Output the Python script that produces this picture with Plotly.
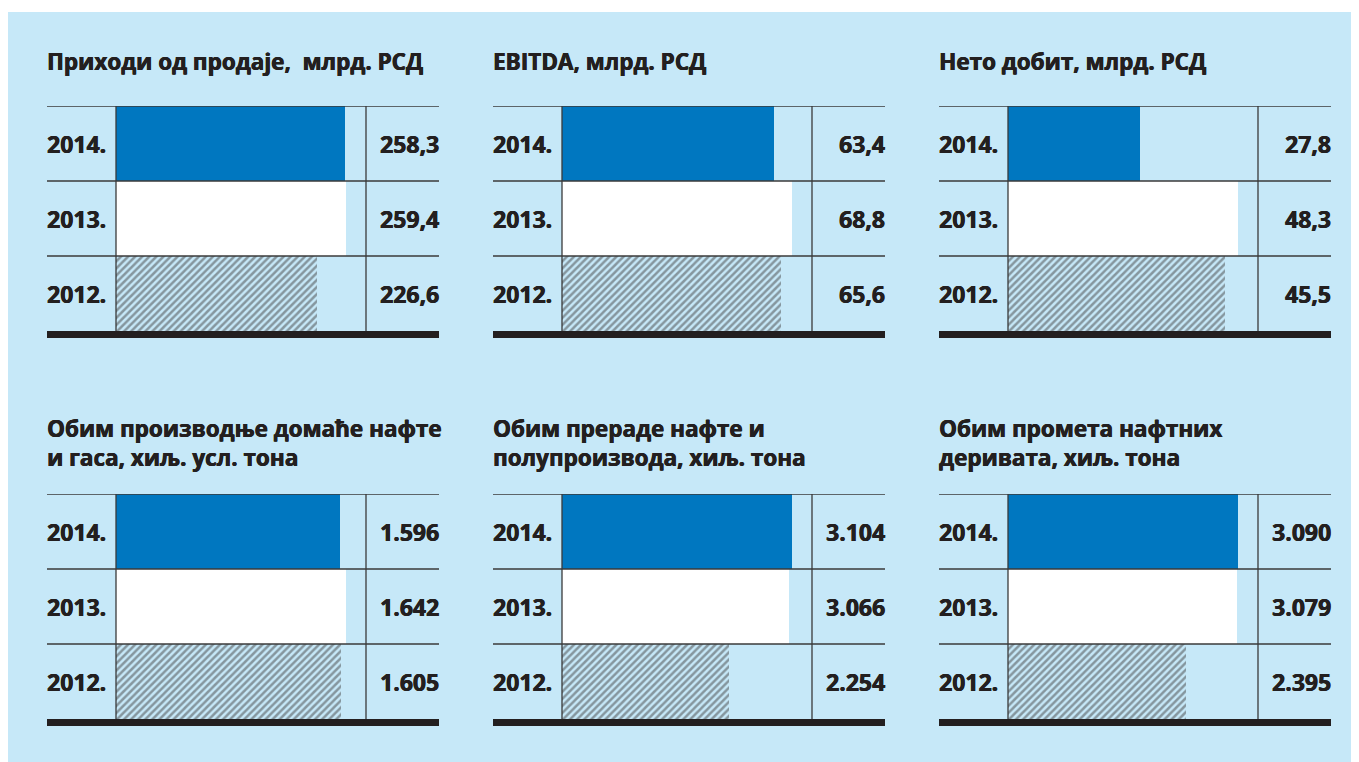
import plotly.graph_objects as go

# page is offset by the 8px body margin, so the figure is the window minus it
W, H = 1351, 754
OFF = 8

years = ["2014.", "2013.", "2012."]
titles = [
    "Приходи од продаје,  млрд. РСД",
    "EBITDA, млрд. РСД",
    "Нето добит, млрд. РСД",
    "Обим производње домаће нафте<br>и гаса, хиљ. усл. тона",
    "Обим прераде нафте и<br>полупроизвода, хиљ. тона",
    "Обим промета нафтних<br>деривата, хиљ. тона",
]
revenue = [258.3, 259.4, 226.6]
ebitda = [63.4, 68.8, 65.6]
net_profit = [27.8, 48.3, 45.5]
production = [1596, 1642, 1605]
refining = [3104, 3066, 2254]
sales = [3090, 3079, 2395]

series = [revenue, ebitda, net_profit, production, refining, sales]
decimal_kind = [True, True, True, False, False, False]

BG = "#c6e8f8"
BLUE = "#0077c0"
INK = "#231f20"
LINE = "#3a3a3a"
FONT = "Open Sans"
HEAVY = "0.45px 0px 0px #231f20, -0.25px 0px 0px #231f20"

bar_colors = [BLUE, "white", BG]
patterns = ["", "", "/"]
cat_order = years[::-1]  # bottom -> top


def fmt(v, dec):
    if dec:
        return f"{v:.1f}".replace(".", ",")
    return f"{v:,}".replace(",", ".")


def px(x):
    return (x - OFF) / W


def py(y):
    return 1 - (y - OFF) / H


panel_x = [47, 493, 939]
rows_top = [106, 494]
title_y = [61, 443]
ROW_H = 75
LABEL_W = 69
BAR_W = 250
TOTAL_W = 392

fig = go.Figure()
shapes = []
annotations = []
layout_axes = {}

# blue background (top 4px of the paper stay white)
shapes.append(dict(type="rect", xref="paper", yref="paper",
                   x0=0, x1=1, y0=0, y1=py(12),
                   fillcolor=BG, line=dict(width=0), layer="below"))

for i, vals in enumerate(series):
    r, c = divmod(i, 3)
    x0 = panel_x[c]
    top = rows_top[r]
    bottom = top + 3 * ROW_H
    idx = "" if i == 0 else str(i + 1)
    xa, ya = "x" + idx, "y" + idx

    xmax = max(vals) * BAR_W / 230.0
    layout_axes["xaxis" + idx] = dict(
        domain=[px(x0 + LABEL_W), px(x0 + LABEL_W + BAR_W)],
        range=[0, xmax], visible=False, anchor=ya, fixedrange=True)
    layout_axes["yaxis" + idx] = dict(
        domain=[py(bottom), py(top)],
        range=[-0.5, 2.5], type="category",
        categoryorder="array", categoryarray=cat_order,
        visible=False, anchor=xa, fixedrange=True)

    fig.add_trace(go.Bar(
        x=vals, y=years, orientation="h", xaxis=xa, yaxis=ya,
        marker=dict(color=bar_colors, line=dict(width=0),
                    pattern=dict(shape=patterns, fgcolor=INK, bgcolor=BG,
                                 size=5, solidity=0.5, fillmode="overlay")),
        showlegend=False, hoverinfo="skip"))

    # title
    annotations.append(dict(
        xref="paper", yref="paper", x=px(x0 - 2), y=py(title_y[r]),
        xanchor="left", yanchor="middle", align="left", showarrow=False,
        text=titles[i],
        font=dict(family=FONT, size=22.5, color=INK, weight="bold",
                  shadow=HEAVY)))

    # year and value labels
    for y_lab, v in zip(years, vals):
        yi = cat_order.index(y_lab)
        annotations.append(dict(
            xref="paper", yref=ya, x=px(x0 - 2), y=yi,
            xanchor="left", yanchor="middle", showarrow=False,
            text=y_lab,
            font=dict(family=FONT, size=23, color=INK, weight="bold",
                      shadow=HEAVY)))
        annotations.append(dict(
            xref="paper", yref=ya, x=px(x0 + TOTAL_W + 2), y=yi,
            xanchor="right", yanchor="middle", showarrow=False,
            text=fmt(v, decimal_kind[i]),
            font=dict(family=FONT, size=23, color=INK, weight="bold",
                      shadow=HEAVY)))

    # horizontal rules (top + row separators)
    for yy in [2.5, 1.5, 0.5]:
        shapes.append(dict(type="line", xref="paper", yref=ya,
                           x0=px(x0), x1=px(x0 + TOTAL_W), y0=yy, y1=yy,
                           line=dict(color=LINE, width=1.3)))
    # vertical rules
    for xx in [x0 + LABEL_W, x0 + LABEL_W + BAR_W]:
        shapes.append(dict(type="line", xref="paper", yref=ya,
                           x0=px(xx), x1=px(xx), y0=-0.5, y1=2.5,
                           line=dict(color=LINE, width=1.3)))
    # thick base bar
    shapes.append(dict(type="rect", xref="paper", yref="paper",
                       x0=px(x0), x1=px(x0 + TOTAL_W),
                       y0=py(bottom + 7), y1=py(bottom),
                       fillcolor=INK, line=dict(width=0)))

fig.update_layout(
    width=W, height=H,
    margin=dict(l=0, r=0, t=0, b=0),
    paper_bgcolor="white", plot_bgcolor="rgba(0,0,0,0)",
    bargap=0, barmode="overlay",
    shapes=shapes, annotations=annotations,
    **layout_axes)

fig.write_html("out.html", config={"displayModeBar": False})
